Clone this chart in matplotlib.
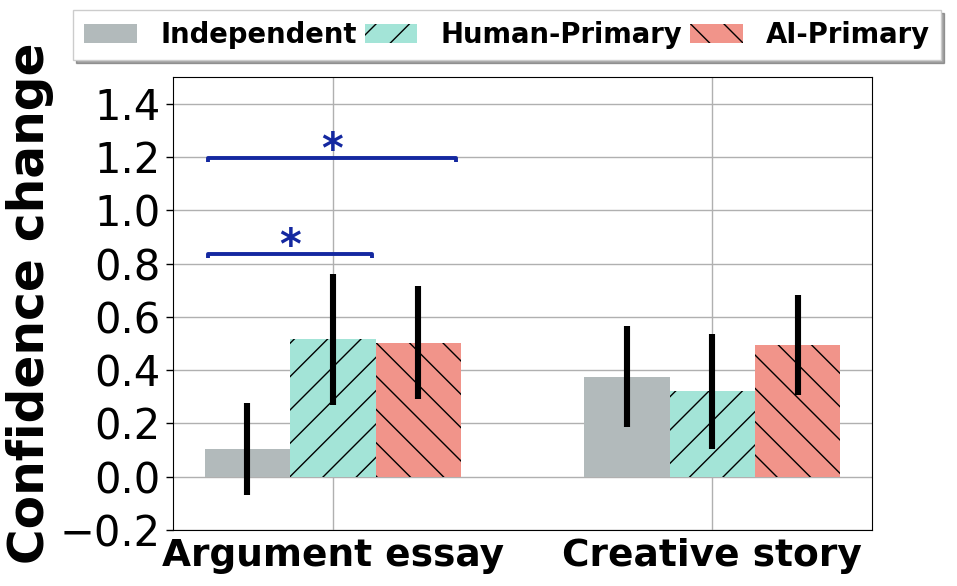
import numpy as np
import matplotlib
matplotlib.use("Agg")
import matplotlib.pyplot as plt

tasks = ["Argument essay", "Creative story"]
conditions = ["Independent", "Human-Primary", "AI-Primary"]
means = {
    "Independent": [0.105, 0.375],
    "Human-Primary": [0.515, 0.32],
    "AI-Primary": [0.503, 0.495],
}
errs = {
    "Independent": [0.172, 0.19],
    "Human-Primary": [0.245, 0.216],
    "AI-Primary": [0.212, 0.188],
}
colors = ["#B2BABB", "#A3E4D7", "#F1948A"]
hatches = ["", "/", "\\"]

# significance brackets: (x start, x end, height)
sig_pairs = [(-0.328, 0.103, 0.837), (-0.328, 0.325, 1.197)]

fig = plt.figure(figsize=(9.57, 5.86), dpi=100)
ax = fig.add_axes([0.1808, 0.0956, 0.7304, 0.773])

x = np.arange(len(tasks))
w = 0.225
for i, c in enumerate(conditions):
    pos = x + (i - 1) * w
    ax.bar(pos, means[c], w, color=colors[i], hatch=hatches[i],
           edgecolor="black", linewidth=0, label=c, zorder=2)
    ax.errorbar(pos, means[c], yerr=errs[c], fmt="none", ecolor="black",
                elinewidth=4.4, capsize=0, zorder=3)

for x1, x2, h in sig_pairs:
    d = 0.015
    ax.plot([x1, x1, x2, x2], [h - d, h, h, h - d], color="#1428A0",
            lw=2.8, zorder=4, solid_capstyle="butt")
    ax.text((x1 + x2) / 2, h - 0.055, "*", ha="center", va="bottom",
            color="#1428A0", fontsize=30, fontweight="bold")

ax.set_ylim(-0.2, 1.5)
yt = np.arange(-0.2, 1.41, 0.2)
ax.set_yticks(yt)
ax.set_yticklabels([f"{v:.1f}".replace("-", "\u2212") for v in yt])
ax.set_xticks(x)
ax.set_xticklabels(tasks, fontsize=27, fontweight="bold")
ax.tick_params(axis="y", labelsize=30, length=5, width=1, pad=4)
ax.tick_params(axis="x", length=0, pad=6)
ax.set_ylabel("Confidence change", fontsize=35, fontweight="bold", labelpad=4)
ax.grid(True, color="#b0b0b0", linewidth=1.0, zorder=0)
ax.set_axisbelow(True)

leg = ax.legend(loc="lower center", bbox_to_anchor=(0.478, 1.0375), ncol=3,
                prop={"size": 19.8, "weight": "bold"}, frameon=True, fancybox=False,
                shadow=True, columnspacing=0.3, handletextpad=0.85,
                handlelength=1.9, borderaxespad=0)
leg.get_frame().set_edgecolor("#cccccc")

fig.savefig("out.png", dpi=100)
